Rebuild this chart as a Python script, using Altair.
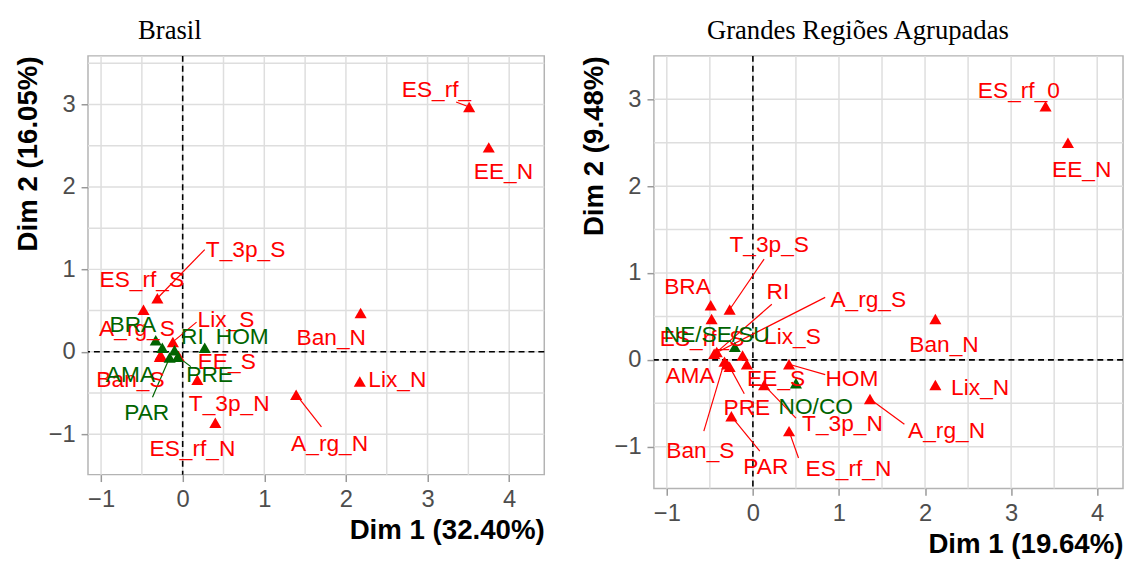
import altair as alt
import pandas as pd
import numpy as np

# ---------------- Panel 1: Brasil ----------------
br_label = ["ES_rf_", "EE_N", "Ban_N", "Lix_N", "A_rg_N", "ES_rf_N", "T_3p_N", "T_3p_S",
            "ES_rf_S", "A_rg_S", "Lix_S", "EE_S", "Ban_S",
            "BRA", "RI", "HOM", "AMA", "PRE", "PAR"]
br_group = ["var"] * 13 + ["ind"] * 6
br_x = [3.51, 3.75, 2.18, 2.17, 1.39, 0.40, 0.18, -0.31, -0.48, -0.28, -0.12, -0.05, -0.27,
        -0.33, -0.10, 0.27, -0.25, -0.06, -0.16]
br_y = [2.97, 2.48, 0.47, -0.36, -0.52, -0.86, -0.34, 0.65, 0.51, -0.06, 0.12, -0.05, -0.04,
        0.14, 0.02, 0.05, 0.05, -0.06, -0.07]
br_lx = [3.11, 3.93, 1.82, 2.63, 1.80, 0.12, 0.57, 0.77, -0.50, -0.56, 0.53, 0.54, -0.64,
         -0.61, 0.12, 0.73, -0.64, 0.33, -0.44]
br_ly = [3.17, 2.18, 0.17, -0.34, -1.12, -1.18, -0.64, 1.23, 0.87, 0.27, 0.39, -0.12, -0.34,
         0.33, 0.18, 0.18, -0.28, -0.28, -0.74]
br_sx = [3.35, None, None, None, 1.70, None, None, 0.27, None, None, 0.17, None, None,
         None, None, None, None, 0.10, -0.37]
br_sy = [3.03, None, None, None, -0.91, None, None, 1.24, None, None, 0.36, None, None,
         None, None, None, None, -0.18, -0.55]

# ---------------- Panel 2: Grandes Regiões Agrupadas ----------------
gr_label = ["ES_rf_0", "EE_N", "Ban_N", "Lix_N", "A_rg_N", "T_3p_S", "BRA", "ES_rf_S", "RI",
            "A_rg_S", "Lix_S", "AMA", "Ban_S", "PRE", "PAR", "ES_rf_N", "T_3p_N", "EE_S", "HOM",
            "NE/SE/SU", "NO/CO"]
gr_group = ["var"] * 19 + ["ind"] * 2
gr_x = [3.40, 3.66, 2.12, 2.12, 1.36, -0.27, -0.49, -0.48, -0.42, -0.45, -0.12, -0.30, -0.33,
        -0.27, -0.25, 0.42, 0.13, -0.07, 0.42, -0.21, 0.50]
gr_y = [2.92, 2.50, 0.47, -0.29, -0.45, 0.58, 0.63, 0.47, 0.09, 0.07, 0.05, -0.05, -0.02,
        -0.08, -0.65, -0.82, -0.29, -0.05, -0.05, 0.15, -0.27]
gr_lx = [3.09, 3.82, 2.22, 2.64, 2.25, 0.19, -0.76, -0.59, 0.29, 1.34, 0.46, -0.73, -0.61,
         -0.07, 0.15, 1.11, 1.04, 0.27, 1.15, -0.42, 0.73]
gr_ly = [3.10, 2.19, 0.17, -0.33, -0.82, 1.32, 0.84, 0.24, 0.78, 0.69, 0.26, -0.19, -1.05,
         -0.56, -1.23, -1.26, -0.74, -0.22, -0.22, 0.29, -0.54]
gr_sx = [None, None, None, None, 1.76, 0.13, None, None, 0.22, 0.84, None, None, -0.57,
         -0.10, 0.08, 0.53, 0.50, None, 0.84, None, None]
gr_sy = [None, None, None, None, -0.74, 1.16, None, None, 0.64, 0.72, None, None, -0.82,
         -0.39, -1.05, -1.13, -0.67, None, -0.17, None, None]

color_scale = alt.Scale(domain=["var", "ind"], range=["#FF0000", "#006400"])
AX_FONT = "Liberation Sans"


def panel(labels, groups, xs, ys, lxs, lys, sxs, sys_, title, xtitle, ytitle,
          xdom, ydom, w, h, title_dx):
    df = pd.DataFrame({"label": labels, "group": groups, "x": xs, "y": ys,
                       "lx": lxs, "ly": lys, "sx": sxs, "sy": sys_})
    df["order"] = (df["group"] == "ind").astype(int)
    df = df.sort_values("order", kind="stable")
    seg = df.dropna(subset=["sx", "sy"])

    xsc = alt.Scale(domain=xdom, nice=False, zero=False)
    ysc = alt.Scale(domain=ydom, nice=False, zero=False)
    xaxis = alt.Axis(values=[-1, 0, 1, 2, 3, 4], title=xtitle)
    yaxis = alt.Axis(values=[-1, 0, 1, 2, 3], title=ytitle)

    gx = [v for v in np.arange(-1.0, 4.51, 0.5) if xdom[0] < v < xdom[1]]
    gy = [v for v in np.arange(-1.0, 3.51, 0.5) if ydom[0] < v < ydom[1]]

    vgrid = alt.Chart(pd.DataFrame({"v": gx})).mark_rule(
        color="#dedede", strokeWidth=1.5).encode(
        x=alt.X("v:Q", scale=xsc, axis=xaxis))
    hgrid = alt.Chart(pd.DataFrame({"v": gy})).mark_rule(
        color="#dedede", strokeWidth=1.5).encode(
        y=alt.Y("v:Q", scale=ysc, axis=yaxis))
    zero = pd.DataFrame({"v": [0.0]})
    vzero = alt.Chart(zero).mark_rule(color="black", strokeDash=[6, 4], strokeWidth=1.6).encode(
        x=alt.X("v:Q", scale=xsc, axis=xaxis))
    hzero = alt.Chart(zero).mark_rule(color="black", strokeDash=[6, 4], strokeWidth=1.6).encode(
        y=alt.Y("v:Q", scale=ysc, axis=yaxis))

    segs = alt.Chart(seg).mark_rule(strokeWidth=1.2).encode(
        x=alt.X("sx:Q", scale=xsc, axis=xaxis), y=alt.Y("sy:Q", scale=ysc, axis=yaxis),
        x2="x:Q", y2="y:Q",
        color=alt.Color("group:N", scale=color_scale, legend=None))
    pts = alt.Chart(df).mark_point(shape="triangle-up", filled=True, size=150, opacity=1).encode(
        x=alt.X("x:Q", scale=xsc, axis=xaxis), y=alt.Y("y:Q", scale=ysc, axis=yaxis),
        color=alt.Color("group:N", scale=color_scale, legend=None),
        order="order:Q")
    txt = alt.Chart(df).mark_text(font=AX_FONT, fontSize=23, baseline="middle",
                                  align="center", clip=True).encode(
        x=alt.X("lx:Q", scale=xsc, axis=xaxis), y=alt.Y("ly:Q", scale=ysc, axis=yaxis),
        text="label:N",
        color=alt.Color("group:N", scale=color_scale, legend=None))

    return alt.layer(vgrid, hgrid, vzero, hzero, segs, pts, txt).properties(
        width=w, height=h,
        title=alt.TitleParams(text=title, font="Liberation Serif", fontSize=27,
                              fontWeight="normal", anchor="start", dx=title_dx,
                              offset=-11, baseline="alphabetic", color="black"))


left = panel(br_label, br_group, br_x, br_y, br_lx, br_ly, br_sx, br_sy,
             "Brasil", "Dim 1 (32.40%)", "Dim 2 (16.05%)",
             [-1.16, 4.43], [-1.49, 3.59], 462, 424, 125)
right = panel(gr_label, gr_group, gr_x, gr_y, gr_lx, gr_ly, gr_sx, gr_sy,
              "Grandes Regiões Agrupadas", "Dim 1 (19.64%)", "Dim 2 (9.48%)",
              [-1.15, 4.30], [-1.48, 3.50], 475, 438, 128)

chart = alt.hconcat(left, right, spacing=33).configure_view(
    stroke="#b3b3b3", strokeWidth=1.5
).configure_axis(
    grid=False, domain=False,
    labelFont=AX_FONT, labelFontSize=24, labelColor="#4d4d4d", labelPadding=6,
    labelFlush=False,
    tickColor="#999999", tickSize=7, tickWidth=1.5,
    titleFont=AX_FONT, titleFontSize=28, titleFontWeight="bold", titleColor="black",
    titleAnchor="end", titlePadding=6
).properties(padding={"left": 5, "top": 5, "right": 0, "bottom": 0})

chart.save("out.html", embed_options={"renderer": "svg", "actions": False})
